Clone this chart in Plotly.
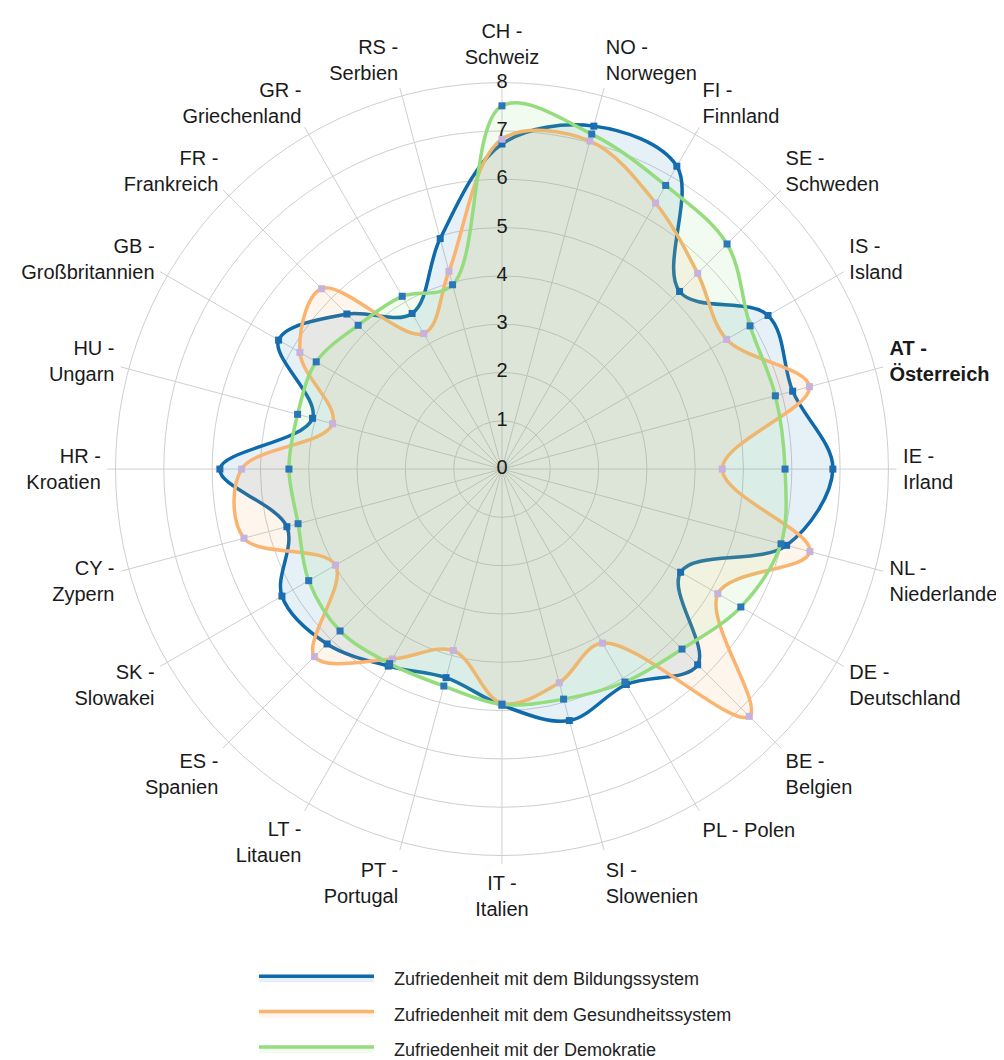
import plotly.graph_objects as go

# country labels, clockwise starting at the top
countries = ['CH -<br>Schweiz', 'NO -<br>Norwegen', 'FI -<br>Finnland', 'SE -<br>Schweden',
             'IS -<br>Island', '<b>AT -</b><br><b>Österreich</b>', 'IE -<br>Irland',
             'NL -<br>Niederlande', 'DE -<br>Deutschland', 'BE -<br>Belgien', 'PL - Polen',
             'SI -<br>Slowenien', 'IT -<br>Italien', 'PT -<br>Portugal', 'LT -<br>Litauen',
             'ES -<br>Spanien', 'SK -<br>Slowakei', 'CY -<br>Zypern', 'HR -<br>Kroatien',
             'HU -<br>Ungarn', 'GB -<br>Großbritannien', 'FR -<br>Frankreich',
             'GR -<br>Griechenland', 'RS -<br>Serbien']

bildung = [6.73, 7.35, 7.24, 5.20, 6.36, 6.23, 6.85, 6.10, 4.27, 5.73, 5.15, 5.39,
           4.89, 4.47, 4.71, 5.12, 5.26, 4.61, 5.84, 4.06, 5.34, 4.54, 3.72, 4.94]
gesundheit = [6.83, 7.03, 6.36, 5.73, 5.37, 6.59, 4.56, 6.60, 5.16, 7.24, 4.16, 4.58,
              4.85, 3.89, 4.54, 5.49, 3.98, 5.53, 5.39, 3.63, 4.83, 5.28, 3.24, 4.24]
demokratie = [7.52, 7.18, 6.78, 6.59, 5.93, 5.86, 5.86, 5.98, 5.71, 5.27, 5.09, 4.93,
              4.87, 4.65, 4.65, 4.74, 4.62, 4.37, 4.41, 4.38, 4.44, 4.21, 4.13, 3.95]

series_names = ['Zufriedenheit mit dem Bildungssystem',
                'Zufriedenheit mit dem Gesundheitssystem',
                'Zufriedenheit mit der Demokratie']

radial_ticks = [0, 1, 2, 3, 4, 5, 6, 7, 8]

line_colors = ['#0f6aab', '#fbb370', '#94dc7e']
fill_colors = ['rgba(31,119,180,0.11)', 'rgba(250,160,80,0.10)', 'rgba(140,215,110,0.11)']
marker_colors = ['#1a6dae', '#c6b2da', '#2a76b6']

fig = go.Figure()

# closed smooth outlines (first point repeated so the spline closes without a kink)
for name, vals, lc, fc in zip(series_names, [bildung, gesundheit, demokratie], line_colors, fill_colors):
    fig.add_trace(go.Scatterpolar(
        r=vals + vals[:1],
        theta=countries + countries[:1],
        mode='lines',
        line=dict(color=lc, width=3.5, shape='spline', smoothing=1),
        fill='toself',
        fillcolor=fc,
        name='\u00a0\u00a0\u00a0' + name,   # a little gap between swatch and text
        legendgroup=name,
        hoverinfo='skip'
    ))

# square markers on top
for name, vals, mc in zip(series_names, [bildung, gesundheit, demokratie], marker_colors):
    fig.add_trace(go.Scatterpolar(
        r=vals,
        theta=countries,
        mode='markers',
        marker=dict(symbol='square', size=7, color=mc),
        showlegend=False,
        name=name
    ))

# radial tick numbers centred on the top spoke
fig.add_trace(go.Scatterpolar(
    r=radial_ticks,
    theta=[countries[0]] * len(radial_ticks),
    mode='text',
    text=[str(t) for t in radial_ticks],
    textposition='middle center',
    textfont=dict(size=20, color='#1a1a1a', family='Liberation Sans, Arial, sans-serif'),
    showlegend=False,
    hoverinfo='skip'
))

fig.update_layout(
    width=1004, height=1060,
    margin=dict(l=0, r=0, t=0, b=0),
    paper_bgcolor='white',
    font=dict(family='Liberation Sans, Arial, sans-serif', color='#1a1a1a'),
    polar=dict(
        domain=dict(x=[0.0956, 0.8884], y=[0.1858, 0.9368]),
        bgcolor='white',
        # range a bit past 8 so the spokes poke out beyond the outer circle
        radialaxis=dict(range=[0, 8.17], tickvals=radial_ticks[1:], showticklabels=False, ticks='',
                        showline=False, gridcolor='#cfcfcf', gridwidth=1),
        angularaxis=dict(direction='clockwise', rotation=90, type='category',
                         showline=False, gridcolor='#cfcfcf',
                         ticks='outside', ticklen=2, tickcolor='rgba(0,0,0,0)',
                         tickfont=dict(size=20, color='#1a1a1a'))
    ),
    legend=dict(x=0.245, y=0.094, xanchor='left', yanchor='top',
                font=dict(size=18, color='#222222'),
                traceorder='grouped', tracegroupgap=9, itemwidth=115,
                bgcolor='rgba(0,0,0,0)'),
    showlegend=True
)

fig.write_html("out.html")
